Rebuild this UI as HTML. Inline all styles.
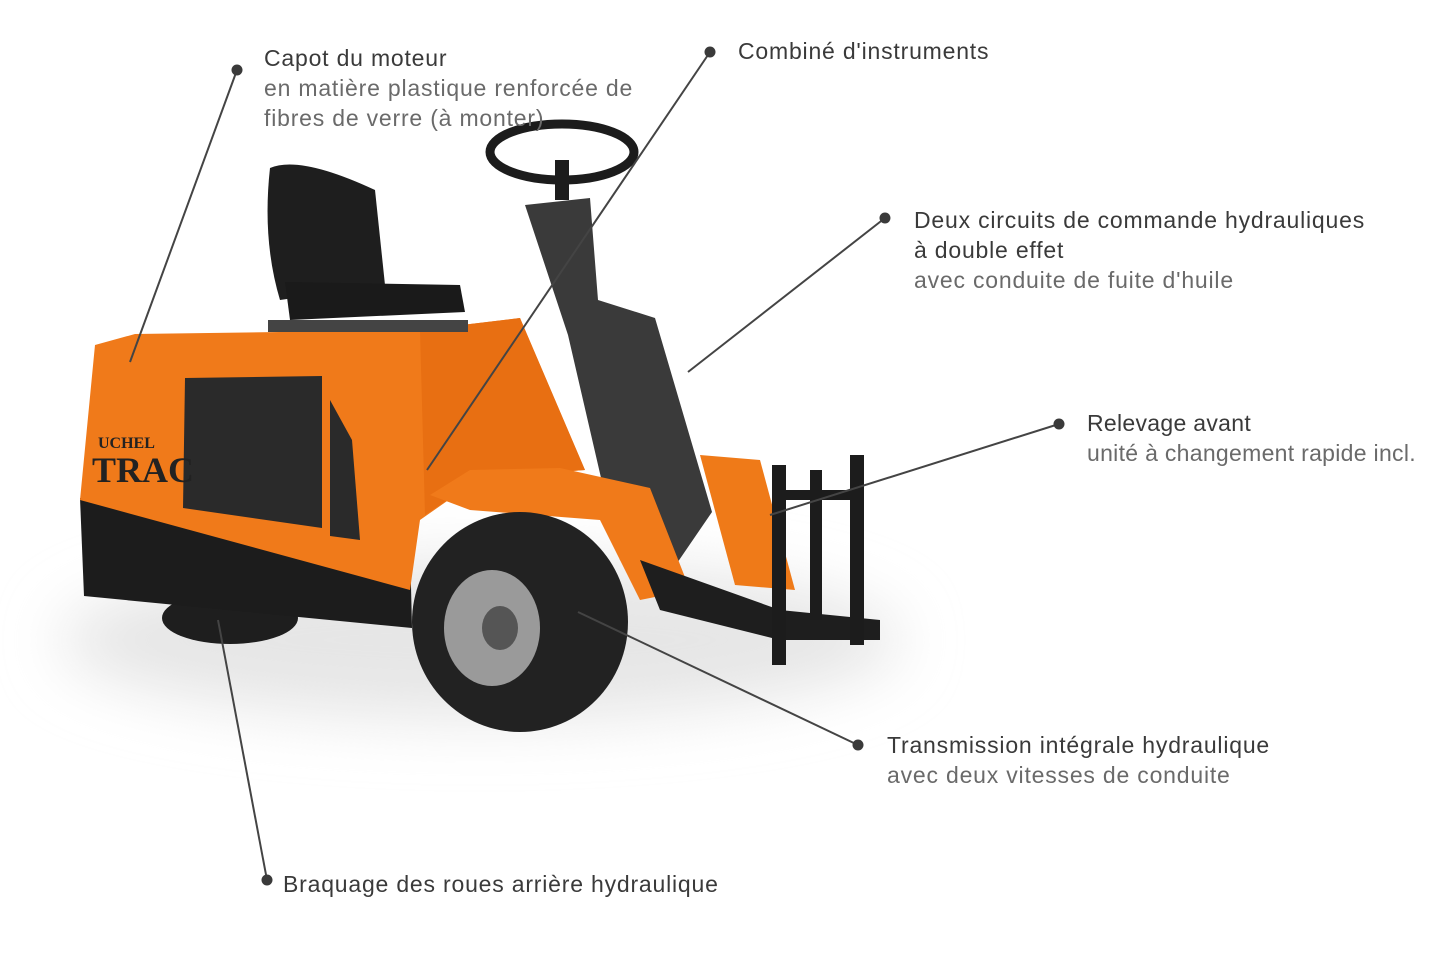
<!DOCTYPE html>
<html><head><meta charset="utf-8"><style>
html,body{margin:0;padding:0;background:#fff;width:1440px;height:960px;overflow:hidden;font-family:"Liberation Sans",sans-serif}
.t{position:absolute;font-size:23px;letter-spacing:0.8px;line-height:30px;color:#3a3a3a;white-space:nowrap}
.s{color:#6a6a6a}
</style></head><body>
<svg width="1440" height="960" style="position:absolute;left:0;top:0">
<defs><filter id="b" x="-50%" y="-50%" width="200%" height="200%"><feGaussianBlur stdDeviation="30"/></filter></defs>
<ellipse cx="480" cy="640" rx="420" ry="80" fill="#e6e6e6" filter="url(#b)"/>
<ellipse cx="230" cy="618" rx="68" ry="26" fill="#1e1e1e"/>
<polygon points="80,498 410,545 412,628 84,596" fill="#1c1c1c"/>
<polygon points="95,345 135,334 420,330 520,318 585,470 480,478 420,520 410,590 80,500" fill="#f07a1a"/>
<polygon points="420,330 520,318 585,470 480,478 425,515" fill="#e86f12"/>
<polygon points="185,378 322,376 322,528 183,508" fill="#2a2a2a"/>
<polygon points="330,400 352,440 360,540 330,536" fill="#2a2a2a"/>
<text x="92" y="482" font-family="Liberation Serif,serif" font-size="36" font-weight="bold" fill="#222">TRAC</text>
<text x="98" y="448" font-family="Liberation Serif,serif" font-size="16" font-weight="bold" fill="#222">UCHEL</text>
<path d="M270,168 Q300,155 375,190 L385,285 L280,300 Q262,240 270,168Z" fill="#1e1e1e"/>
<path d="M285,282 L460,285 L465,312 L290,320Z" fill="#1a1a1a"/>
<rect x="268" y="320" width="200" height="12" fill="#444"/>
<polygon points="525,205 590,198 598,300 655,318 712,512 660,588 620,560 568,335" fill="#3a3a3a"/>
<ellipse cx="562" cy="152" rx="72" ry="28" fill="none" stroke="#1c1c1c" stroke-width="9"/>
<rect x="555" y="160" width="14" height="40" fill="#1c1c1c"/>
<polygon points="430,495 470,470 560,468 650,488 690,590 640,600 600,520 470,510" fill="#f07a1a"/>
<polygon points="700,455 760,460 795,590 735,585" fill="#ef7a18"/>
<ellipse cx="520" cy="622" rx="108" ry="110" fill="#222"/>
<ellipse cx="492" cy="628" rx="48" ry="58" fill="#9a9a9a"/>
<ellipse cx="500" cy="628" rx="18" ry="22" fill="#555"/>
<polygon points="640,560 780,610 880,620 880,640 780,640 660,610" fill="#1e1e1e"/>
<rect x="772" y="465" width="14" height="200" fill="#1c1c1c"/>
<rect x="850" y="455" width="14" height="190" fill="#1c1c1c"/>
<rect x="810" y="470" width="12" height="150" fill="#1c1c1c"/>
<rect x="772" y="490" width="92" height="10" fill="#1c1c1c"/>
<g stroke="#444" stroke-width="2" fill="#3a3a3a">
<line x1="237" y1="70" x2="130" y2="362"/>
<line x1="710" y1="52" x2="427" y2="470"/>
<line x1="885" y1="218" x2="688" y2="372"/>
<line x1="1059" y1="424" x2="770" y2="515"/>
<line x1="858" y1="745" x2="578" y2="612"/>
<line x1="267" y1="880" x2="218" y2="620"/>
<circle cx="237" cy="70" r="5.5" stroke="none"/>
<circle cx="710" cy="52" r="5.5" stroke="none"/>
<circle cx="885" cy="218" r="5.5" stroke="none"/>
<circle cx="1059" cy="424" r="5.5" stroke="none"/>
<circle cx="858" cy="745" r="5.5" stroke="none"/>
<circle cx="267" cy="880" r="5.5" stroke="none"/>
</g>
</svg>
<div class="t" style="left:264px;top:43px">Capot du moteur<br><span class="s">en matière plastique renforcée de<br>fibres de verre (à monter)</span></div>
<div class="t" style="left:738px;top:36px">Combiné d'instruments</div>
<div class="t" style="left:914px;top:205px">Deux circuits de commande hydrauliques<br>à double effet<br><span class="s">avec conduite de fuite d'huile</span></div>
<div class="t" style="left:1087px;top:408px;letter-spacing:0.3px">Relevage avant<br><span class="s">unité à changement rapide incl.</span></div>
<div class="t" style="left:887px;top:730px">Transmission intégrale hydraulique<br><span class="s">avec deux vitesses de conduite</span></div>
<div class="t" style="left:283px;top:869px">Braquage des roues arrière hydraulique</div>
</body></html>
